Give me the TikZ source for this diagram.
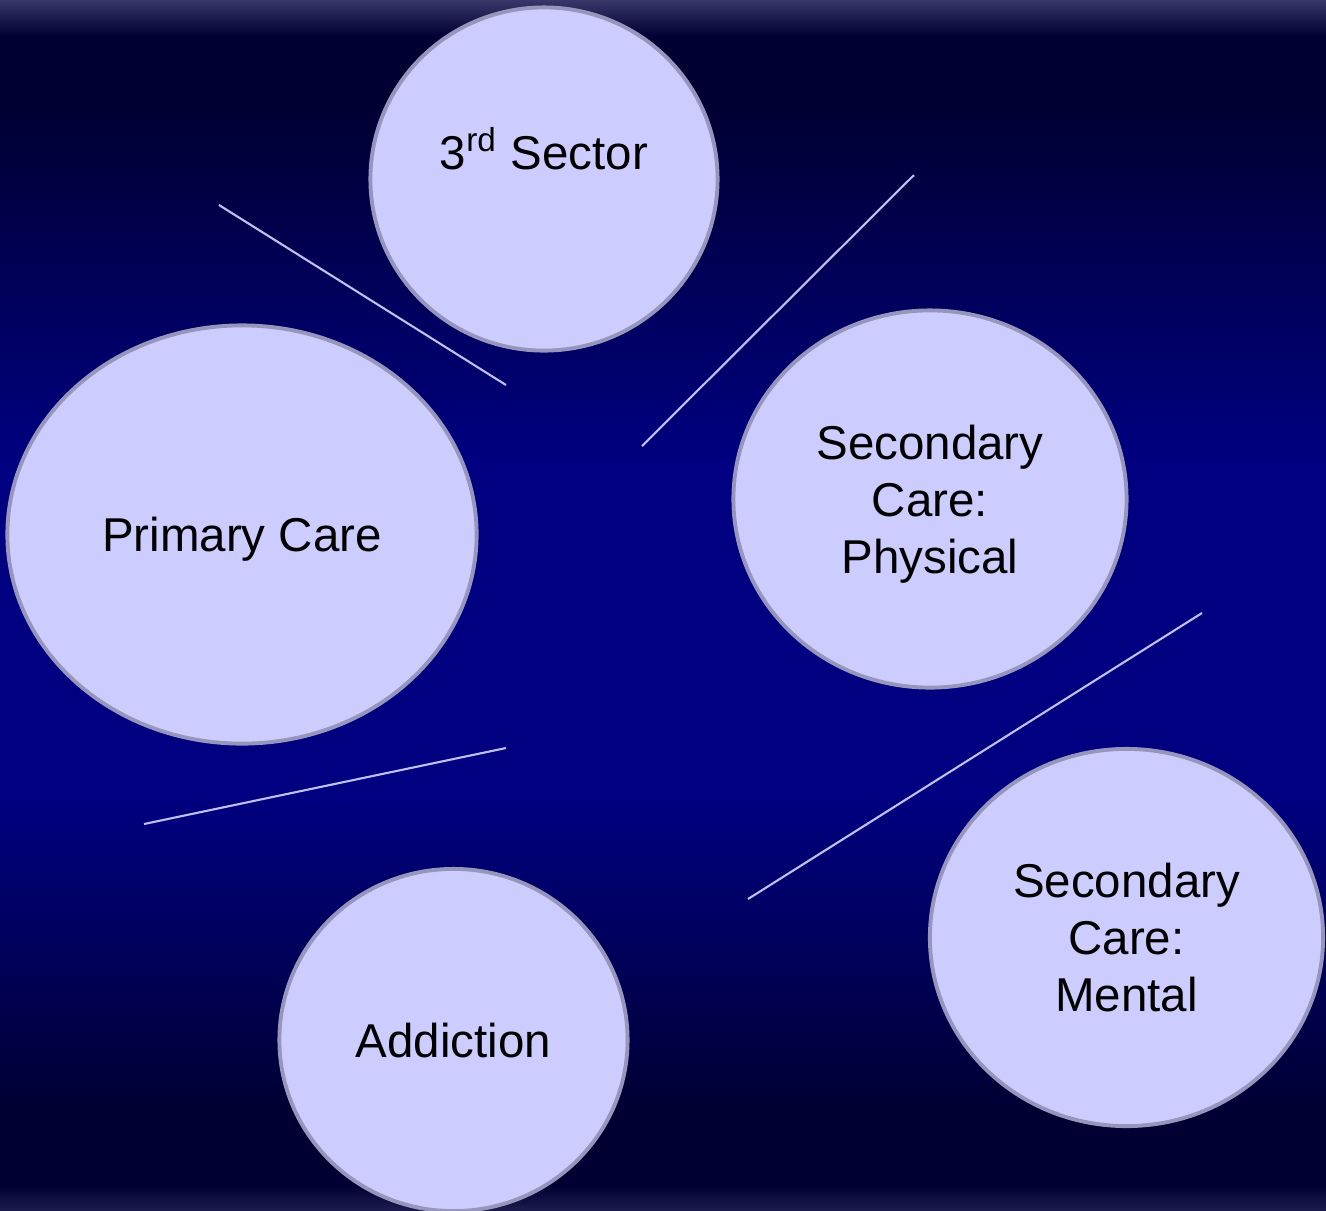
\documentclass[tikz,border=0pt]{standalone}
\usepackage{fontspec}
\setmainfont{Liberation Sans}
\usepackage{tikz}
\usetikzlibrary{shapes.geometric}
\definecolor{fondclair}{RGB}{55,55,105}
\definecolor{fondsombre}{RGB}{0,0,51}
\definecolor{fondbleu}{RGB}{0,0,128}
\definecolor{fondbas}{RGB}{28,28,78}
\definecolor{bullefond}{RGB}{204,204,255}
\definecolor{bullebord}{RGB}{150,150,188}
\definecolor{traitclair}{RGB}{192,192,240}

\begin{document}
\begin{tikzpicture}[x=0.01cm,y=-0.01cm]
% définition des paramètres
\tikzstyle bullecare=[ellipse,draw=bullebord,fill=bullefond,line width=1.1pt,inner sep=0pt,align=center,text depth=0pt,font=\fontsize{13.5pt}{16.2pt}\selectfont]
\tikzstyle traitcare=[color=traitclair,line width=0.6pt]
\newcommand{\largeur}{1326} % largeur de l'image
\newcommand{\hauteur}{1211} % et hauteur
% le fond
\useasboundingbox (0,0) rectangle (\largeur,\hauteur);
\shade[top color=fondclair,bottom color=fondsombre] (0,0) rectangle (\largeur,36);
\fill[fondsombre] (0,36) rectangle (\largeur,110);
\shade[top color=fondsombre,bottom color=fondbleu] (0,110) rectangle (\largeur,460);
\fill[fondbleu] (0,460) rectangle (\largeur,800);
\shade[top color=fondbleu,bottom color=fondsombre] (0,800) rectangle (\largeur,1110);
\fill[fondsombre] (0,1110) rectangle (\largeur,1185);
\shade[top color=fondsombre,bottom color=fondbas] (0,1185) rectangle (\largeur,\hauteur);
% les traits
\draw[traitcare] (219,205) -- (506,385);
\draw[traitcare] (914,175) -- (642,446);
\draw[traitcare] (144,824) -- (506,748);
\draw[traitcare] (1202,613) -- (748,899);
% les bulles
\node[bullecare,minimum width=3.47cm,minimum height=3.43cm,
  label={[font=\fontsize{13.5pt}{16.2pt}\selectfont,yshift=0.30cm]center:3\textsuperscript{rd} Sector}]
  (secteur) at (544,179) {};
\node[bullecare,minimum width=4.69cm,minimum height=4.18cm] (primaire) at (242,534.5) {Primary Care};
\node[bullecare,minimum width=3.93cm,minimum height=3.77cm] (physique) at (930,499) {Secondary\\Care:\\Physical};
\node[bullecare,minimum width=3.93cm,minimum height=3.77cm] (mental) at (1126.5,937.5) {Secondary\\Care:\\Mental};
\node[bullecare,minimum width=3.48cm,minimum height=3.42cm] (addiction) at (453.5,1040) {Addiction};
\end{tikzpicture}
\end{document}
